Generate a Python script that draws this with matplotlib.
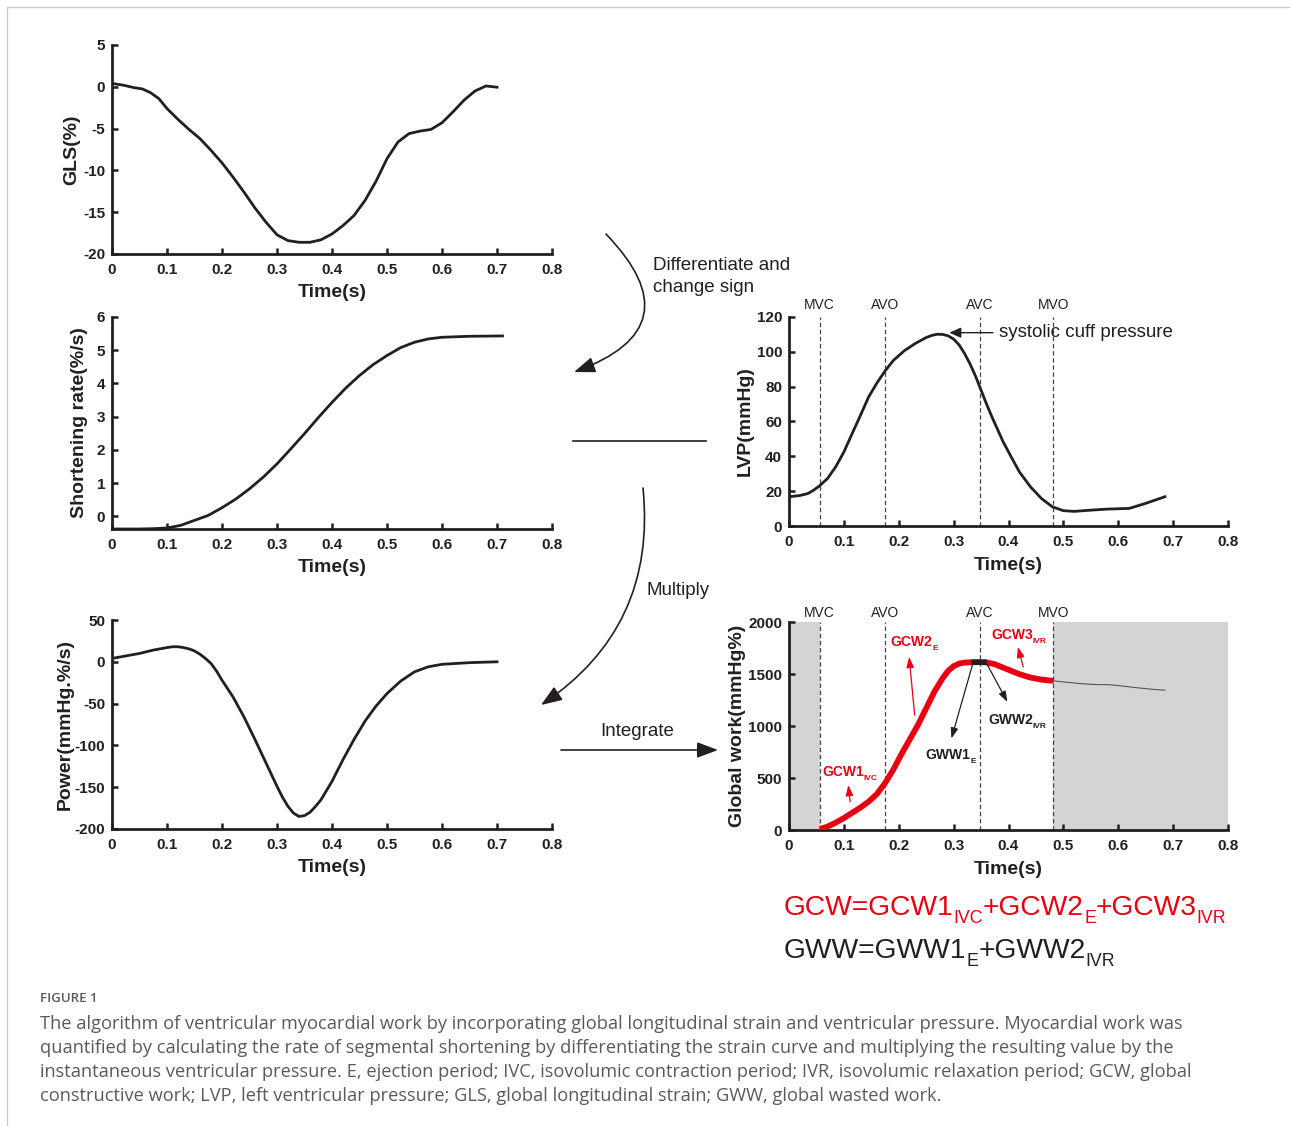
import numpy as np
import matplotlib
matplotlib.use("Agg")
import matplotlib.pyplot as plt
import matplotlib.transforms as mtransforms
from matplotlib.patches import FancyArrowPatch
from matplotlib.lines import Line2D

# ---------------- data ----------------
time_ticks = [0, 0.1, 0.2, 0.3, 0.4, 0.5, 0.6, 0.7, 0.8]
time_tick_labels = ["0", "0.1", "0.2", "0.3", "0.4", "0.5", "0.6", "0.7", "0.8"]

gls_t = [0.0, 0.02, 0.04, 0.055, 0.07, 0.085, 0.10, 0.12, 0.14, 0.16, 0.18, 0.20, 0.22, 0.24,
         0.26, 0.28, 0.30, 0.32, 0.34, 0.36, 0.38, 0.40, 0.42, 0.44, 0.46, 0.48, 0.50, 0.52,
         0.54, 0.56, 0.58, 0.60, 0.62, 0.64, 0.66, 0.68, 0.70]
gls_v = [0.4, 0.2, -0.1, -0.25, -0.7, -1.4, -2.6, -3.9, -5.1, -6.2, -7.6, -9.1, -10.8, -12.6,
         -14.5, -16.2, -17.7, -18.4, -18.6, -18.6, -18.3, -17.6, -16.6, -15.4, -13.6, -11.3, -8.6, -6.6,
         -5.6, -5.3, -5.1, -4.3, -3.0, -1.6, -0.5, 0.1, -0.05]
gls_yticks = [-20, -15, -10, -5, 0, 5]

sr_t = [0.0, 0.05, 0.075, 0.10, 0.125, 0.15, 0.175, 0.20, 0.225, 0.25, 0.275, 0.30, 0.325, 0.35,
        0.375, 0.40, 0.425, 0.45, 0.475, 0.50, 0.525, 0.55, 0.575, 0.60, 0.65, 0.71]
sr_v = [-0.38, -0.38, -0.37, -0.35, -0.27, -0.12, 0.03, 0.26, 0.52, 0.83, 1.18, 1.58, 2.03, 2.49,
        2.97, 3.43, 3.86, 4.24, 4.57, 4.84, 5.08, 5.24, 5.34, 5.39, 5.42, 5.43]
sr_yticks = [0, 1, 2, 3, 4, 5, 6]

pw_t = [0.0, 0.025, 0.05, 0.075, 0.10, 0.11, 0.12, 0.13, 0.14, 0.15, 0.16, 0.17, 0.18, 0.19,
        0.20, 0.22, 0.24, 0.26, 0.28, 0.30, 0.31, 0.32, 0.33, 0.34, 0.35, 0.36, 0.37, 0.38,
        0.40, 0.42, 0.44, 0.46, 0.48, 0.50, 0.525, 0.55, 0.575, 0.60, 0.65, 0.70]
pw_v = [4, 7, 10, 14, 17, 18, 18, 17, 15.5, 13, 9, 4, -2, -11,
        -22, -42, -66, -93, -121, -149, -162, -173, -181, -185, -184, -180, -173, -165,
        -143, -117, -93, -71, -53, -38, -23, -12, -6, -3, -1, 0]
pw_yticks = [-200, -150, -100, -50, 0, 50]

lvp_t = [0.0, 0.02, 0.035, 0.045, 0.055, 0.07, 0.085, 0.10, 0.115, 0.13, 0.145, 0.16, 0.175,
         0.19, 0.21, 0.23, 0.25, 0.26, 0.27, 0.28, 0.29, 0.30, 0.31, 0.32, 0.33, 0.34, 0.35,
         0.36, 0.37, 0.38, 0.39, 0.405, 0.42, 0.44, 0.46, 0.48, 0.50, 0.52, 0.55, 0.58, 0.62,
         0.65, 0.685]
lvp_v = [16.8, 17.5, 18.7, 20.6, 22.9, 27.2, 33.9, 42.5, 53.0, 63.4, 74.0, 82.0, 89.0,
         95.0, 100.6, 104.8, 108.2, 109.4, 110.1, 110.0, 109.2, 107.3, 104.0, 99.0, 93.0, 86.0, 78.0,
         70.0, 62.5, 55.5, 48.5, 39.6, 31.0, 22.5, 15.8, 11.0, 8.8, 8.4, 9.1, 9.7, 10.1,
         13.0, 16.8]
lvp_yticks = [0, 20, 40, 60, 80, 100, 120]

event_names = ["MVC", "AVO", "AVC", "MVO"]
event_t = [0.056, 0.175, 0.348, 0.482]

gw_yticks = [0, 500, 1000, 1500, 2000]
gcw_a_t = [0.056, 0.07, 0.085, 0.10, 0.115, 0.13, 0.145, 0.16, 0.175, 0.19, 0.205, 0.22,
           0.235, 0.25, 0.265, 0.28, 0.29, 0.30, 0.31, 0.32, 0.335]
gcw_a_v = [10, 32, 70, 115, 165, 215, 272, 345, 450, 580, 730, 870,
           1010, 1170, 1330, 1460, 1530, 1575, 1600, 1610, 1613]
gww_t = [0.333, 0.345, 0.36]
gww_v = [1613, 1614, 1613]
gcw_b_t = [0.358, 0.375, 0.39, 0.405, 0.42, 0.44, 0.46, 0.482]
gcw_b_v = [1613, 1594, 1562, 1530, 1498, 1466, 1446, 1434]
gw_tail_t = [0.482, 0.50, 0.53, 0.56, 0.58, 0.60, 0.63, 0.66, 0.685]
gw_tail_v = [1434, 1424, 1408, 1398, 1398, 1389, 1370, 1354, 1344]

caption_title = "FIGURE 1"
caption_lines = [
    "The algorithm of ventricular myocardial work by incorporating global longitudinal strain and ventricular pressure. Myocardial work was",
    "quantified by calculating the rate of segmental shortening by differentiating the strain curve and multiplying the resulting value by the",
    "instantaneous ventricular pressure. E, ejection period; IVC, isovolumic contraction period; IVR, isovolumic relaxation period; GCW, global",
    "constructive work; LVP, left ventricular pressure; GLS, global longitudinal strain; GWW, global wasted work.",
]

# ---------------- style ----------------
W, H = 1290, 1126
DPI = 100
INK = "#231f20"
RED = "#e60012"
SHADE = "#d4d4d4"
plt.rcParams["font.family"] = ["Liberation Sans", "DejaVu Sans"]

fig = plt.figure(figsize=(W / DPI, H / DPI), dpi=DPI)
fig.patch.set_facecolor("white")
renderer = fig.canvas.get_renderer()


def prect(l, t, r, b):
    return [l / W, 1 - b / H, (r - l) / W, (b - t) / H]


def fxy(x, y):
    return (x / W, 1 - y / H)


def style_axes(ax, ylim, yticks, ylabel, ylab_x):
    ax.set_xlim(0, 0.8)
    ax.set_ylim(*ylim)
    ax.set_xticks(time_ticks)
    ax.set_xticklabels(time_tick_labels)
    ax.set_yticks(yticks)
    ax.set_yticklabels([str(v) for v in yticks])
    for s in ("top", "right"):
        ax.spines[s].set_visible(False)
    for s in ("left", "bottom"):
        ax.spines[s].set_linewidth(2.0)
        ax.spines[s].set_color(INK)
        ax.spines[s].set_capstyle("projecting")
    ax.tick_params(direction="in", length=4, width=1.8, color=INK,
                   labelsize=11, labelcolor=INK)
    ax.tick_params(axis="x", pad=6.5)
    ax.tick_params(axis="y", pad=5)
    for lab in ax.get_xticklabels() + ax.get_yticklabels():
        lab.set_fontweight("bold")
    ax.patch.set_alpha(0)
    ax.set_xlabel("Time(s)", fontsize=14, fontweight="bold", color=INK, va="center")
    h_px = ax.get_position().height * H
    ax.xaxis.set_label_coords(0.5, -39 / h_px)
    ax.set_ylabel(ylabel, fontsize=14, fontweight="bold", color=INK, va="center")
    w_px = ax.get_position().width * W
    l_px = ax.get_position().x0 * W
    ax.yaxis.set_label_coords((ylab_x - l_px) / w_px, 0.5)


def rich(x, y, pieces, size, color, transform, weight="normal",
         sub_scale=0.6, sub_drop=0.27):
    """Draw text with subscripts, pieces = [(text, is_sub)]; baseline at (x, y)."""
    arts = []
    dx = 0.0
    for txt, sub in pieces:
        fs = size * sub_scale if sub else size
        dy = -size * sub_drop * DPI / 72 if sub else 0.0
        tr = mtransforms.offset_copy(transform, fig=fig, x=dx, y=dy, units="dots")
        t = fig.text(x, y, txt, transform=tr, fontsize=fs, color=color,
                     fontweight=weight, ha="left", va="baseline")
        dx += t.get_window_extent(renderer).width
        arts.append(t)
    return arts


lw_curve = 2.0

# Panel 1: GLS
ax1 = fig.add_axes(prect(112, 45, 552, 254))
ax1.plot(gls_t, gls_v, color=INK, lw=lw_curve, solid_joinstyle="round")
style_axes(ax1, (-20, 5), gls_yticks, "GLS(%)", 72)

# Panel 2: shortening rate
ax2 = fig.add_axes(prect(112, 317, 552, 529))
ax2.plot(sr_t, sr_v, color=INK, lw=lw_curve, solid_joinstyle="round")
style_axes(ax2, (-0.38, 6), sr_yticks, "Shortening rate(%/s)", 80)

# Panel 3: power
ax3 = fig.add_axes(prect(112, 620, 552, 829))
ax3.plot(pw_t, pw_v, color=INK, lw=lw_curve, solid_joinstyle="round")
style_axes(ax3, (-200, 50), pw_yticks, "Power(mmHg.%/s)", 65)

# Panel 4: LVP
ax4 = fig.add_axes(prect(789, 317, 1228, 526))
ax4.plot(lvp_t, lvp_v, color=INK, lw=lw_curve, solid_joinstyle="round")
style_axes(ax4, (0, 120), lvp_yticks, "LVP(mmHg)", 745)
for name, t in zip(event_names, event_t):
    ax4.axvline(t, color="#444444", lw=0.9, dashes=(3.5, 2.2), zorder=0)
    ax4.text(t, 1 + 12 / 209, name, transform=ax4.get_xaxis_transform(),
             ha="center", va="center", fontsize=10, color=INK)
ax4.annotate("systolic cuff pressure", xy=(0.292, 111), xytext=(0.382, 111),
             fontsize=13.5, color=INK, va="center", ha="left", annotation_clip=False,
             arrowprops=dict(arrowstyle="-|>,head_length=0.5,head_width=0.22",
                             color=INK, lw=1.0, shrinkA=2, shrinkB=0, mutation_scale=14))

# Panel 5: global work
ax5 = fig.add_axes(prect(789, 622, 1228, 830))
ax5.axvspan(0, event_t[0], color=SHADE, zorder=0, lw=0)
ax5.axvspan(event_t[3], 0.8, color=SHADE, zorder=0, lw=0)
ax5.plot(gw_tail_t, gw_tail_v, color="#555555", lw=0.8, zorder=2)
ax5.plot(gcw_a_t, gcw_a_v, color=RED, lw=4.2, solid_capstyle="butt",
         solid_joinstyle="round", zorder=3)
ax5.plot(gcw_b_t, gcw_b_v, color=RED, lw=4.2, solid_capstyle="butt",
         solid_joinstyle="round", zorder=3)
ax5.plot(gww_t, gww_v, color=INK, lw=4.2, solid_capstyle="butt", zorder=4)
style_axes(ax5, (0, 2000), gw_yticks, "Global work(mmHg%)", 738)
for name, t in zip(event_names, event_t):
    ax5.axvline(t, color="#444444", lw=0.9, dashes=(3.5, 2.2), zorder=1)
    ax5.text(t, 1 + 9 / 208, name, transform=ax5.get_xaxis_transform(),
             ha="center", va="center", fontsize=10, color=INK)


def small_arrow(ax, tail, head, color):
    ax.annotate("", xy=head, xytext=tail, annotation_clip=False,
                arrowprops=dict(arrowstyle="-|>,head_length=0.45,head_width=0.16",
                                color=color, lw=0.9, shrinkA=0, shrinkB=0,
                                mutation_scale=14))


small_arrow(ax5, (0.1115, 272), (0.108, 432), RED)
small_arrow(ax5, (0.229, 1104), (0.219, 1664), RED)
small_arrow(ax5, (0.427, 1568), (0.417, 1760), RED)
small_arrow(ax5, (0.335, 1600), (0.296, 880), INK)
small_arrow(ax5, (0.357, 1632), (0.398, 1232), INK)

rich(0.06, 520, [("GCW1", False), ("IVC", True)], 10, RED, ax5.transData, weight="bold")
rich(0.185, 1770, [("GCW2", False), ("E", True)], 10, RED, ax5.transData, weight="bold")
rich(0.368, 1835, [("GCW3", False), ("IVR", True)], 10, RED, ax5.transData, weight="bold")
rich(0.249, 680, [("GWW1", False), ("E", True)], 10, INK, ax5.transData, weight="bold")
rich(0.363, 1015, [("GWW2", False), ("IVR", True)], 10, INK, ax5.transData, weight="bold")

# ---------------- flow arrows / connectors ----------------
def flow_arrow(p0, p1, rad):
    a = FancyArrowPatch(fxy(*p0), fxy(*p1), transform=fig.transFigure,
                        connectionstyle=f"arc3,rad={rad}",
                        arrowstyle="-|>,head_length=0.8,head_width=0.3",
                        mutation_scale=16, lw=1.2, color=INK, shrinkA=0, shrinkB=0)
    fig.add_artist(a)


flow_arrow((606, 234), (574, 372), -0.77)
flow_arrow((643, 488), (541, 705), -0.30)
flow_arrow((561, 750), (718, 750), 0.0)
fig.add_artist(Line2D([573 / W, 706 / W], [1 - 441 / H, 1 - 441 / H],
                      transform=fig.transFigure, color=INK, lw=1.2))

fig.text(*fxy(653, 265), "Differentiate and", fontsize=13.5, color=INK, va="center", ha="left")
fig.text(*fxy(653, 288), "change sign", fontsize=13.5, color=INK, va="center", ha="left")
fig.text(*fxy(646, 591), "Multiply", fontsize=13.5, color=INK, va="center", ha="left")
fig.text(*fxy(600, 731), "Integrate", fontsize=13.5, color=INK, va="center", ha="left")

# ---------------- formulas ----------------
rich(*fxy(784, 915), [("GCW=GCW1", False), ("IVC", True), ("+GCW2", False), ("E", True),
                      ("+GCW3", False), ("IVR", True)], 20.3, RED, fig.transFigure,
     sub_scale=0.63, sub_drop=0.3)
rich(*fxy(784, 958), [("GWW=GWW1", False), ("E", True), ("+GWW2", False), ("IVR", True)],
     20.3, INK, fig.transFigure, sub_scale=0.63, sub_drop=0.3)

# ---------------- caption ----------------
CAP = "#5a5a5a"
fig.text(*fxy(40, 998), caption_title, fontsize=9.5, color=CAP, va="center", ha="left",
         family=["Open Sans", "DejaVu Sans"], fontweight="semibold")
cap_arts = []
for i, line in enumerate(caption_lines):
    cap_arts.append(fig.text(*fxy(40, 1024 + 24 * i), line, fontsize=12, color=CAP,
                             va="center", ha="left", family=["Open Sans", "DejaVu Sans"]))
w0 = cap_arts[0].get_window_extent(renderer).width
fs = 12 * 1141 / w0
for a in cap_arts:
    a.set_fontsize(fs)

# border lines
fig.add_artist(Line2D([7 / W, 1.0], [1 - 7 / H, 1 - 7 / H], transform=fig.transFigure,
                      color="#cccccc", lw=1.0))
fig.add_artist(Line2D([7 / W, 7 / W], [1 - 7 / H, 0.0], transform=fig.transFigure,
                      color="#cccccc", lw=1.0))

fig.savefig("out.png", dpi=DPI, facecolor="white")
